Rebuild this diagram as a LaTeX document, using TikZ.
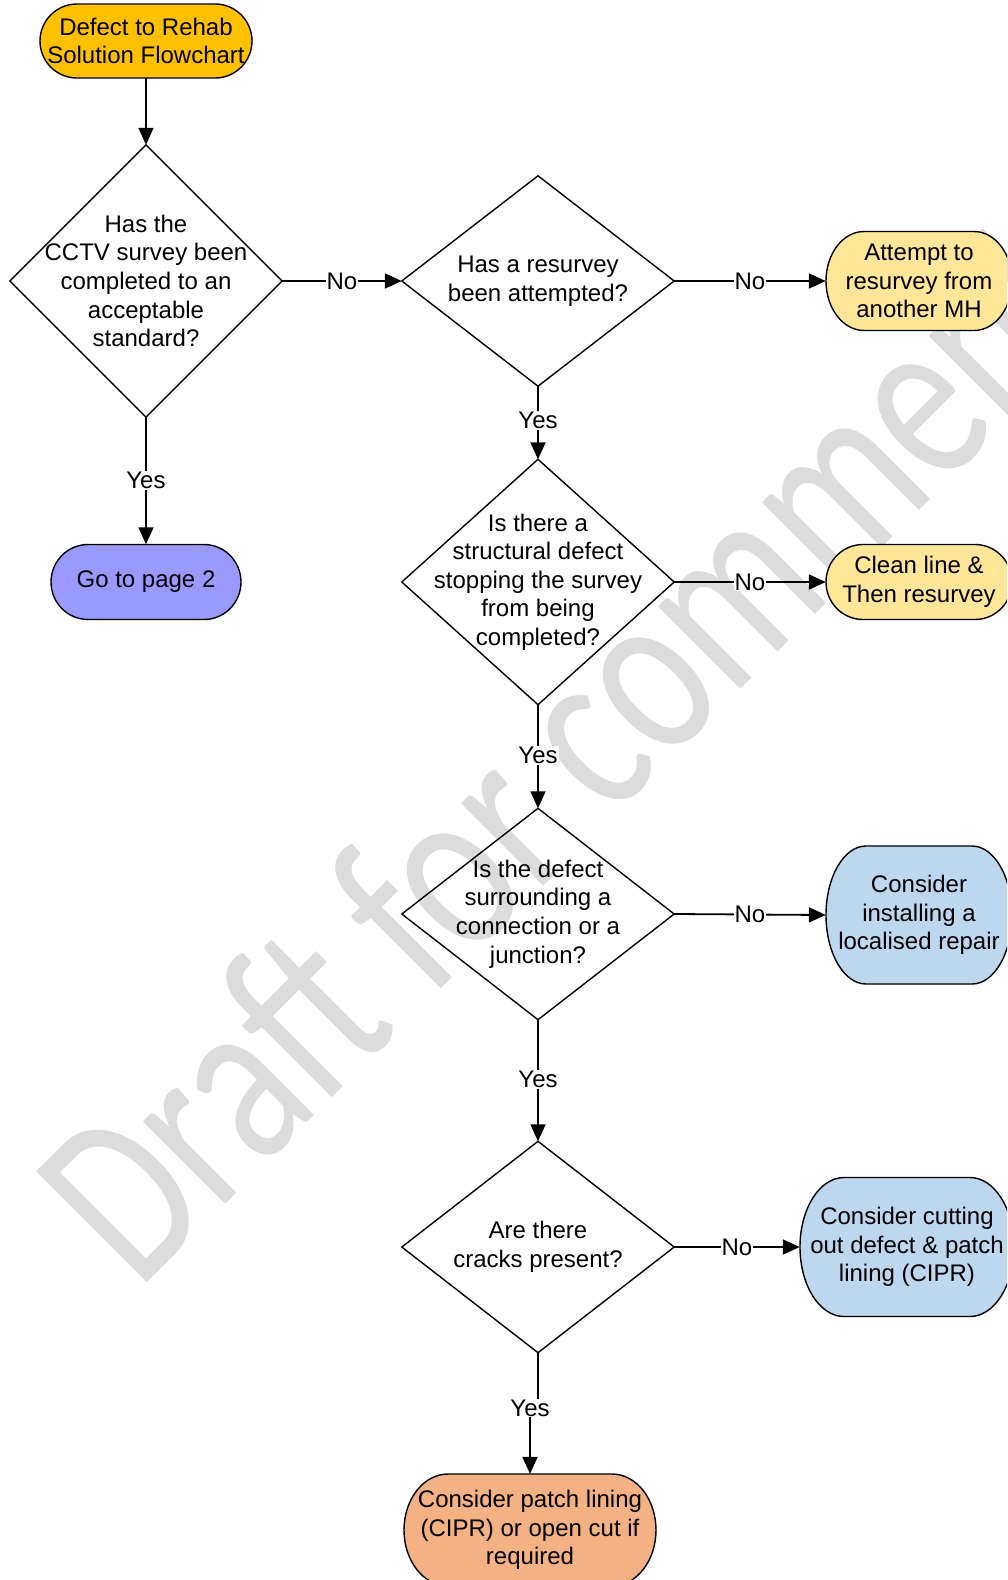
\documentclass[tikz,border=0pt]{standalone}
\usepackage{fontspec}
\setmainfont{Liberation Sans}
\newfontfamily\wmfont{Carlito}
\usepackage{graphicx}
\usetikzlibrary{arrows.meta}
\definecolor{cStart}{HTML}{FFC000}
\definecolor{cYel}{HTML}{FFE699}
\definecolor{cPurp}{HTML}{9999FF}
\definecolor{cBlue}{HTML}{BDD7EE}
\definecolor{cOrange}{HTML}{F4B183}
\definecolor{wmgray}{HTML}{DCDCDC}
% terminator outline: cx cy w h rx fill
\newcommand\termshape[6]{%
 \pgfmathsetmacro\tmL{#1-#3/2}%
 \pgfmathsetmacro\tmR{#1+#3/2}%
 \pgfmathsetmacro\tmT{#2-#4/2}%
 \pgfmathsetmacro\tmB{#2+#4/2}%
 \pgfmathsetmacro\tmEl{\tmL+#5}%
 \pgfmathsetmacro\tmEr{\tmR-#5}%
 \pgfmathsetmacro\tmKx{0.5523*#5}%
 \pgfmathsetmacro\tmKy{0.5523*#4/2}%
 \draw[shapeline, fill=#6] (\tmEl,\tmT) -- (\tmEr,\tmT)
   .. controls ({\tmEr+\tmKx},\tmT) and (\tmR,{#2-\tmKy}) .. (\tmR,#2)
   .. controls (\tmR,{#2+\tmKy}) and ({\tmEr+\tmKx},\tmB) .. (\tmEr,\tmB)
   -- (\tmEl,\tmB)
   .. controls ({\tmEl-\tmKx},\tmB) and (\tmL,{#2+\tmKy}) .. (\tmL,#2)
   .. controls (\tmL,{#2-\tmKy}) and ({\tmEl-\tmKx},\tmT) .. (\tmEl,\tmT) -- cycle;
}
\begin{document}
\begin{tikzpicture}[x=1pt,y=-1pt,
  shapeline/.style={draw=black, line width=1.4pt},
  txt/.style={align=center, inner sep=0pt, font=\fontsize{24}{28.6}\selectfont},
  lbl/.style={fill=white, inner sep=1pt, font=\fontsize{24}{28.6}\selectfont},
  arr/.style={line width=1.8pt, -{Triangle[length=17pt,width=15pt]}}]
\useasboundingbox (0,0) rectangle (1007,1580);
\clip (0,0) rectangle (1007,1580);
\fill[white] (0,0) rectangle (1007,1580);
% watermark
\node[anchor=base west, rotate=45, inner sep=0pt, text=wmgray] (wm) at (138,1292)
  {\scalebox{0.75}[1]{\wmfont\fontsize{244}{244}\selectfont Draft for comment}};
% shapes
\termshape{146}{41}{212}{74}{37}{cStart}
\termshape{146}{582}{190}{75}{37}{cPurp}
\termshape{919}{281}{186}{99}{38}{cYel}
\termshape{919}{582}{186}{75}{37}{cYel}
\termshape{919}{915}{186}{138}{40}{cBlue}
\termshape{907}{1247}{214}{139}{44}{cBlue}
\termshape{530}{1530}{252}{112}{44}{cOrange}
% text nodes
\node[txt, minimum width=212, minimum height=74] (start) at (146,41) {Defect to Rehab\\Solution Flowchart};
\node[txt, minimum width=190, minimum height=75] (page2) at (146,582) {Go to page 2};
\node[txt, minimum width=186, minimum height=99] (attempt) at (919,281) {Attempt to\\resurvey from\\another MH};
\node[txt, minimum width=186, minimum height=75] (clean) at (919,582) {Clean line \&\\Then resurvey};
\node[txt, minimum width=186, minimum height=138] (install) at (919,915) {Consider\\installing a\\localised repair};
\node[txt, minimum width=214, minimum height=139] (cutting) at (907,1247) {Consider cutting\\out defect \& patch\\lining (CIPR)};
\node[txt, minimum width=252, minimum height=112] (final) at (530,1530) {Consider patch lining\\(CIPR) or open cut if\\required};
% decisions
\node[txt, minimum width=272, minimum height=272] (d1) at (146,281) {Has the\\CCTV survey been\\completed to an\\acceptable\\standard?};
\node[txt, minimum width=272, minimum height=210] (d2) at (538,281) {Has a resurvey\\been attempted?};
\node[txt, minimum width=272, minimum height=245] (d3) at (538,582) {Is there a\\structural defect\\stopping the survey\\from being\\completed?};
\node[txt, minimum width=272, minimum height=211] (d4) at (538,914) {Is the defect\\surrounding a\\connection or a\\junction?};
\node[txt, minimum width=272, minimum height=211] (d5) at (538,1247) {Are there\\cracks present?};
\foreach \d in {d1,d2,d3,d4,d5}
  \draw[shapeline] (\d.north) -- (\d.east) -- (\d.south) -- (\d.west) -- cycle;
% connectors
\draw[arr] (start.south) -- (d1.north);
\draw[arr] (d1.east) -- node[lbl] (l1) {No} (d2.west);
\draw[arr] (d2.east) -- node[lbl] (l2) {No} (attempt.west);
\draw[arr] (d1.south) -- node[lbl] (l3) {Yes} (page2.north);
\draw[arr] (d2.south) -- node[lbl, pos=0.47] (l4) {Yes} (d3.north);
\draw[arr] (d3.east) -- node[lbl] (l5) {No} (clean.west);
\draw[arr] (d3.south) -- node[lbl, pos=0.49] (l6) {Yes} (d4.north);
\draw[arr] (d4.east) -- node[lbl] (l7) {No} (install.west);
\draw[arr] (d4.south) -- node[lbl, pos=0.49] (l8) {Yes} (d5.north);
\draw[arr] (d5.east) -- node[lbl] (l9) {No} (cutting.west);
\coordinate (j1) at (538,1408);
\coordinate (j2) at (530,1408);
\draw[arr] (d5.south) -- (j1) -- (j2) -- (final.north);
\node[lbl] (l10) at (530,1408) {Yes};
\end{tikzpicture}
\end{document}
